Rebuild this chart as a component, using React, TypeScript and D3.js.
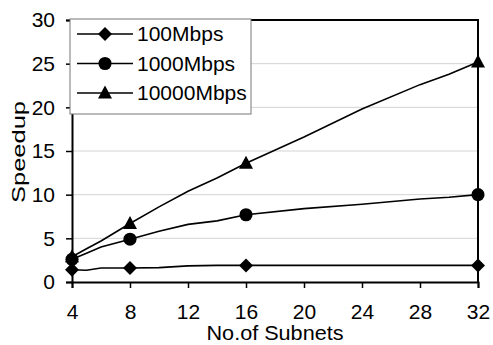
import React, { useEffect, useRef } from 'react';
import * as d3 from 'd3';

// readings from the figure
const subnets = [4, 5, 6, 8, 10, 12, 14, 16, 20, 24, 28, 30, 32];
const speed100 = [1.4, 1.35, 1.6, 1.6, 1.65, 1.85, 1.9, 1.9, 1.9, 1.9, 1.9, 1.9, 1.9];
const speed1000 = [2.6, 3.3, 4.0, 4.9, 5.8, 6.6, 7.0, 7.7, 8.4, 8.9, 9.5, 9.7, 10.0];
const speed10000 = [2.9, 3.8, 4.7, 6.7, 8.6, 10.4, 11.9, 13.6, 16.6, 19.8, 22.6, 23.8, 25.2];
const markerAt = [4, 8, 16, 32];
const seriesNames = ['100Mbps', '1000Mbps', '10000Mbps'];
const xTicks = [4, 8, 12, 16, 20, 24, 28, 32];
const yTicks = [0, 5, 10, 15, 20, 25, 30];

const W = 493, H = 345;
const m = { left: 72, right: 15, top: 20, bottom: 63 };
const font = 'Liberation Sans, Arial, sans-serif';

export default function App() {
  const ref = useRef<SVGSVGElement>(null);

  useEffect(() => {
    const svg = d3.select(ref.current);
    svg.selectAll('*').remove();

    const x = d3.scaleLinear().domain([4, 32]).range([m.left, W - m.right]);
    const y = d3.scaleLinear().domain([0, 30]).range([H - m.bottom, m.top]);

    // gridlines
    svg.append('g')
      .selectAll('line')
      .data(yTicks.filter(d => d > 0 && d < 30))
      .enter().append('line')
      .attr('x1', x(4)).attr('x2', x(32))
      .attr('y1', d => y(d)).attr('y2', d => y(d))
      .attr('stroke', '#d4d4d4').attr('stroke-width', 1);

    // frame top + right
    svg.append('path')
      .attr('d', `M${x(4)},${y(30)}H${x(32)}V${y(0)}`)
      .attr('fill', 'none').attr('stroke', '#000').attr('stroke-width', 2);

    const yAxis = svg.append('g')
      .attr('transform', `translate(${x(4)},0)`)
      .call(d3.axisLeft(y).tickValues(yTicks).tickSize(6).tickPadding(11));
    const xAxis = svg.append('g')
      .attr('transform', `translate(0,${y(0)})`)
      .call(d3.axisBottom(x).tickValues(xTicks).tickSize(6).tickPadding(16));

    [yAxis, xAxis].forEach(a => {
      a.select('.domain').attr('stroke', '#000').attr('stroke-width', 2);
      a.selectAll('.tick line').attr('stroke', '#000').attr('stroke-width', 1.5);
      a.selectAll('text').attr('font-family', font).attr('font-size', 21).attr('fill', '#000');
    });

    const all = [speed100, speed1000, speed10000];
    const line = d3.line<number>().x((_, i) => x(subnets[i])).y(d => y(d));

    const symbolPath = (k: number) => {
      if (k === 0) return 'M0,-7L7,0L0,7L-7,0Z';
      if (k === 1) return d3.symbol().type(d3.symbolCircle).size(135)()!;
      return 'M0,-7.5L7,5.5L-7,5.5Z';
    };

    all.forEach((vals, k) => {
      svg.append('path')
        .attr('d', line(vals))
        .attr('fill', 'none').attr('stroke', '#000').attr('stroke-width', 1.6);
      const pts = subnets.map((s, i) => ({ s, v: vals[i] })).filter(p => markerAt.includes(p.s));
      svg.append('g').selectAll('path')
        .data(pts)
        .enter().append('path')
        .attr('d', symbolPath(k))
        .attr('transform', p => `translate(${x(p.s)},${y(p.v)})`)
        .attr('fill', '#000');
    });

    // legend
    const lg = svg.append('g').attr('transform', 'translate(70,19)');
    lg.append('rect').attr('width', 181).attr('height', 95)
      .attr('fill', '#fff').attr('stroke', '#777').attr('stroke-width', 1);
    seriesNames.forEach((name, k) => {
      const cy = 15 + k * 29.5;
      lg.append('line').attr('x1', 7).attr('x2', 63).attr('y1', cy).attr('y2', cy)
        .attr('stroke', '#000').attr('stroke-width', 1.6);
      lg.append('path').attr('d', symbolPath(k)).attr('transform', `translate(35,${cy})`).attr('fill', '#000');
      lg.append('text').attr('x', 67).attr('y', cy + 7).text(name)
        .attr('font-family', font).attr('font-size', 21).attr('fill', '#000');
    });

    svg.append('text')
      .attr('x', 275).attr('y', 340)
      .attr('text-anchor', 'middle')
      .attr('font-family', font).attr('font-size', 20)
      .attr('textLength', 137).attr('lengthAdjust', 'spacingAndGlyphs')
      .text('No.of Subnets');

    svg.append('text')
      .attr('transform', `translate(25,152) rotate(-90)`)
      .attr('text-anchor', 'middle')
      .attr('font-family', font).attr('font-size', 18)
      .attr('textLength', 102).attr('lengthAdjust', 'spacingAndGlyphs')
      .text('Speedup');
  }, []);

  return (
    <div style={{ position: 'absolute', left: 0, top: 0 }}>
      <svg ref={ref} width={W} height={H} style={{ display: 'block', background: '#fff' }} />
    </div>
  );
}
